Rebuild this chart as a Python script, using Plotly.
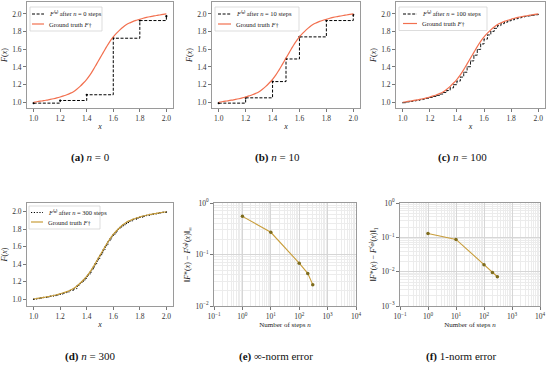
import plotly.graph_objects as go

# ---------------- data ----------------
x_knots_0 = [1.0, 1.2, 1.4, 1.6, 1.8, 2.0]
F_steps_0 = [0.99, 1.02, 1.085, 1.725, 1.925, 1.975]

x_knots_10 = [1.0, 1.2, 1.4, 1.5, 1.6, 1.8, 2.0]
F_steps_10 = [0.99, 1.05, 1.234, 1.49, 1.74, 1.925, 1.99]

x_fine = [1.0, 1.025, 1.05, 1.075, 1.1, 1.125, 1.15, 1.175, 1.2, 1.225, 1.25,
          1.275, 1.3, 1.325, 1.35, 1.375, 1.4, 1.425, 1.45, 1.475, 1.5,
          1.525, 1.55, 1.575, 1.6, 1.625, 1.65, 1.675, 1.7, 1.725, 1.75,
          1.775, 1.8, 1.825, 1.85, 1.875, 1.9, 1.925, 1.95, 1.975, 2.0]
F_truth = [1.000, 1.006, 1.012, 1.018, 1.025, 1.032, 1.040, 1.049, 1.060, 1.072, 1.085,
           1.101, 1.120, 1.147, 1.180, 1.218, 1.260, 1.310, 1.370, 1.435, 1.500,
           1.565, 1.630, 1.690, 1.740, 1.782, 1.820, 1.853, 1.880, 1.899, 1.915,
           1.928, 1.940, 1.951, 1.960, 1.968, 1.975, 1.982, 1.988, 1.994, 2.000]
F_steps_100 = [0.995, 1.004, 1.010, 1.016, 1.022, 1.029, 1.037, 1.045, 1.055, 1.066, 1.078,
               1.093, 1.110, 1.133, 1.163, 1.199, 1.240, 1.285, 1.340, 1.402, 1.468,
               1.533, 1.598, 1.660, 1.715, 1.762, 1.802, 1.837, 1.867, 1.890, 1.907,
               1.922, 1.934, 1.946, 1.955, 1.964, 1.972, 1.978, 1.985, 1.991, 1.995]

x_knots_300 = [1.0, 1.025, 1.05, 1.075, 1.1, 1.125, 1.15, 1.175, 1.2, 1.225, 1.25, 1.275, 1.3,
               1.325, 1.3375, 1.35, 1.3625, 1.375, 1.3875, 1.4, 1.4125, 1.425, 1.4375,
               1.45, 1.4625, 1.475, 1.4875, 1.5, 1.5125, 1.525, 1.5375, 1.55, 1.5625,
               1.575, 1.5875, 1.6, 1.6125, 1.625, 1.6375, 1.65, 1.6625, 1.675,
               1.7, 1.725, 1.75, 1.775, 1.8, 1.825, 1.85, 1.875, 1.9, 1.925, 1.95, 1.975, 2.0]
F_steps_300 = [0.998, 1.005, 1.011, 1.017, 1.024, 1.031, 1.039, 1.047, 1.058, 1.070, 1.082, 1.098, 1.116,
               1.145, 1.160, 1.178, 1.196, 1.216, 1.236, 1.258, 1.282, 1.308, 1.337,
               1.368, 1.400, 1.433, 1.466, 1.498, 1.530, 1.563, 1.596, 1.628, 1.659,
               1.688, 1.714, 1.738, 1.760, 1.780, 1.800, 1.818, 1.835, 1.851,
               1.876, 1.896, 1.912, 1.926, 1.938, 1.949, 1.958, 1.967, 1.974, 1.981, 1.987, 1.993, 1.998]

n_steps = [1, 10, 100, 200, 300]
err_inf = [0.55, 0.27, 0.068, 0.043, 0.026]
err_one = [0.13, 0.087, 0.016, 0.0094, 0.0071]

step_labels = ["0", "10", "100", "300"]
lin_ticks = [1.0, 1.2, 1.4, 1.6, 1.8, 2.0]
log_x_ticks = [0.1, 1, 10, 100, 1000, 10000]
log_x_text = ["10<sup>−1</sup>", "10<sup>0</sup>", "10<sup>1</sup>", "10<sup>2</sup>",
              "10<sup>3</sup>", "10<sup>4</sup>"]
log_y_ticks_e = [0.01, 0.1, 1]
log_y_text_e = ["10<sup>−2</sup>", "10<sup>−1</sup>", "10<sup>0</sup>"]
log_y_ticks_f = [0.001, 0.01, 0.1, 1]
log_y_text_f = ["10<sup>−3</sup>", "10<sup>−2</sup>", "10<sup>−1</sup>", "10<sup>0</sup>"]

# ---------------- layout helpers ----------------
W, H = 550, 369
FONT = "Liberation Serif"
RED = "#f2704f"
GOLD = "#c89d3a"
MARK = "#7d6b1c"
DASH = "3px,1.6px"
DOT = "1.2px,1.6px"


def px(x):
    return x / W


def py(y):
    return 1 - y / H


def dx(a, b):
    return [a / W, b / W]


def dy(top, bottom):
    return [1 - bottom / H, 1 - top / H]


fig = go.Figure()

panels = [
    ("1", dx(27, 173), dy(2, 108)),
    ("2", dx(212, 360), dy(2, 108)),
    ("3", dx(396, 545), dy(2, 108)),
    ("4", dx(27, 173), dy(203, 306)),
    ("5", dx(214, 356), dy(203, 306)),
    ("6", dx(400, 540), dy(203, 306)),
]

step_data = [
    (x_knots_0, F_steps_0, DASH, 2.2, 1.0),
    (x_knots_10, F_steps_10, DASH, 2.2, 1.0),
    (x_fine, F_steps_100, DASH, 1.0, 0.9),
    (x_knots_300, F_steps_300, DOT, 1.5, 1.0),
]

for i, (xs, ys, dash, msz, lw) in enumerate(step_data):
    ax = "" if i == 0 else str(i + 1)
    gt_color = GOLD if i == 3 else RED
    fig.add_trace(go.Scatter(
        x=xs, y=ys, mode="lines+markers", line_shape="hv",
        line=dict(color="black", width=lw, dash=dash),
        marker=dict(color="black", size=msz),
        name=f"F(n) after n = {step_labels[i]} steps", showlegend=False,
        xaxis="x" + ax, yaxis="y" + ax))
    fig.add_trace(go.Scatter(
        x=x_fine, y=F_truth, mode="lines", line_shape="spline",
        line=dict(color=gt_color, width=1.2),
        name="Ground truth F†", showlegend=False,
        xaxis="x" + ax, yaxis="y" + ax))

for k, err in ((5, err_inf), (6, err_one)):
    fig.add_trace(go.Scatter(
        x=n_steps, y=err, mode="lines+markers",
        line=dict(color=GOLD, width=1.1),
        marker=dict(color=MARK, size=3.5),
        showlegend=False, xaxis=f"x{k}", yaxis=f"y{k}"))

axis_common = dict(showline=True, mirror=True, linecolor="#9a9a9a", linewidth=0.8,
                   ticks="outside", ticklen=3, tickcolor="#777", tickwidth=0.6,
                   tickfont=dict(family=FONT, size=7.5, color="#333"),
                   zeroline=False, showgrid=False, automargin=False)

layout = dict(width=W, height=H, margin=dict(l=0, r=0, t=0, b=0),
              paper_bgcolor="white", plot_bgcolor="white",
              font=dict(family=FONT, color="#222"))

for idx, (name, xd, yd) in enumerate(panels):
    xk = "xaxis" if name == "1" else f"xaxis{name}"
    yk = "yaxis" if name == "1" else f"yaxis{name}"
    anchor_x = "y" if name == "1" else f"y{name}"
    anchor_y = "x" if name == "1" else f"x{name}"
    if idx < 4:
        yr = [0.935, 2.135] if idx < 3 else [0.92, 2.10]
        layout[xk] = dict(axis_common, domain=xd, anchor=anchor_x, range=[0.95, 2.05],
                          tickvals=lin_ticks, tickformat=".1f",
                          title=dict(text="<i>x</i>", font=dict(size=8), standoff=1))
        layout[yk] = dict(axis_common, domain=yd, anchor=anchor_y, range=yr,
                          tickvals=lin_ticks, tickformat=".1f",
                          title=dict(text="<i>F</i>(<i>x</i>)", font=dict(size=8), standoff=3))
    else:
        grid = dict(showgrid=True, gridcolor="#d6d6d6", gridwidth=0.6)
        minor = dict(showgrid=True, gridcolor="#ececec", gridwidth=0.5, dtick="D1", ticks="")
        if idx == 4:
            yr, yt, ytt = [-2, 0], log_y_ticks_e, log_y_text_e
            ylab = "‖<i>F</i>*(<i>x</i>) − <i>F</i>⁽<i>ⁿ</i>⁾(<i>x</i>)‖<sub>∞</sub>"
        else:
            yr, yt, ytt = [-3, 0], log_y_ticks_f, log_y_text_f
            ylab = "‖<i>F</i>*(<i>x</i>) − <i>F</i>⁽<i>ⁿ</i>⁾(<i>x</i>)‖<sub>1</sub>"
        layout[xk] = dict(axis_common, **grid, domain=xd, anchor=anchor_x, type="log",
                          range=[-1, 4], tickvals=log_x_ticks, ticktext=log_x_text,
                          minor=minor,
                          title=dict(text="Number of steps <i>n</i>", font=dict(size=7), standoff=1))
        layout[yk] = dict(axis_common, **grid, domain=yd, anchor=anchor_y, type="log",
                          range=yr, tickvals=yt, ticktext=ytt, minor=minor,
                          title=dict(text=ylab, font=dict(size=8), standoff=3))

fig.update_layout(**layout)

# ---------------- compact legends (box, line samples, labels) ----------------
# (box_left, box_top, box_right, row1_y, row2_y, sample_x0, sample_x1, text_x)
legend_boxes = [
    (30, 7, 102, 14, 24, 32, 44, 47),
    (215, 7, 299, 14, 24, 218, 231, 234),
    (399, 7, 487, 14, 23.5, 403, 417, 420),
    (29, 206, 100, 212.5, 222, 31, 43, 46),
]
for i, (bl, bt, br, r1, r2, s0, s1, tx) in enumerate(legend_boxes):
    gt_color = GOLD if i == 3 else RED
    dash = DOT if i == 3 else DASH
    fig.add_shape(type="rect", xref="paper", yref="paper",
                  x0=px(bl), x1=px(br), y0=py(r2 + 7), y1=py(bt),
                  fillcolor="rgba(255,255,255,0.92)",
                  line=dict(color="#cfcfcf", width=0.7), layer="above")
    fig.add_shape(type="line", xref="paper", yref="paper",
                  x0=px(s0), x1=px(s1), y0=py(r1), y1=py(r1),
                  line=dict(color="black", width=1, dash=dash), layer="above")
    fig.add_shape(type="line", xref="paper", yref="paper",
                  x0=px(s0), x1=px(s1), y0=py(r2), y1=py(r2),
                  line=dict(color=gt_color, width=1.2), layer="above")
    fig.add_annotation(x=px(tx), y=py(r1), xref="paper", yref="paper",
                       text=f"<i>F</i>⁽<i>ⁿ</i>⁾ after <i>n</i> = {step_labels[i]} steps",
                       showarrow=False, xanchor="left", yanchor="middle",
                       font=dict(family=FONT, size=6.5, color="#222"))
    fig.add_annotation(x=px(tx), y=py(r2), xref="paper", yref="paper",
                       text="Ground truth <i>F</i>†",
                       showarrow=False, xanchor="left", yanchor="middle",
                       font=dict(family=FONT, size=6.5, color="#222"))

captions = [
    (90, 157, "<b>(a)</b> <i>n</i> = 0"),
    (277, 157, "<b>(b)</b> <i>n</i> = 10"),
    (462, 157, "<b>(c)</b> <i>n</i> = 100"),
    (90, 356, "<b>(d)</b> <i>n</i> = 300"),
    (276, 356, "<b>(e)</b> ∞-norm error"),
    (461, 356, "<b>(f)</b> 1-norm error"),
]
for cx, cy, txt in captions:
    fig.add_annotation(x=px(cx), y=py(cy), xref="paper", yref="paper",
                       text=txt, showarrow=False, xanchor="center", yanchor="middle",
                       font=dict(family=FONT, size=11, color="#111"))

fig.write_html("out.html", config={"displayModeBar": False},
               post_script="document.body.style.margin='0px';document.body.style.padding='0px';")
